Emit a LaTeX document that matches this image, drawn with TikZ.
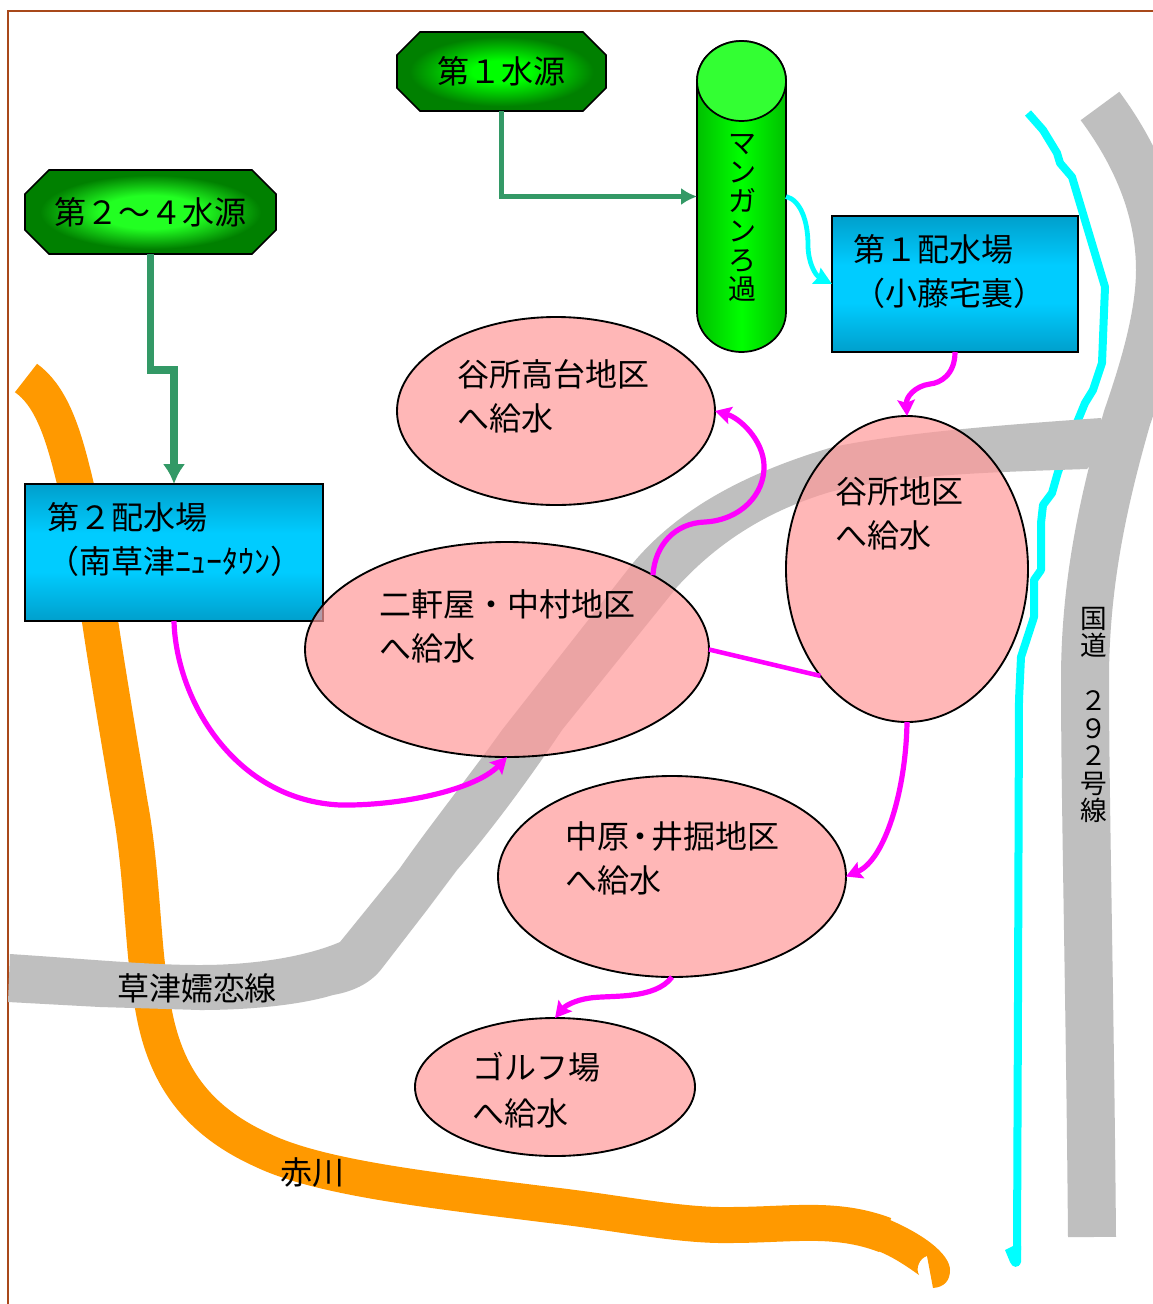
\documentclass[tikz,border=0pt]{standalone}
\usepackage{fontspec}
\setmainfont{Noto Sans CJK JP}
\usetikzlibrary{shapes.geometric,arrows.meta}
\definecolor{bluedark}{HTML}{009FCC}
\definecolor{bluelight}{HTML}{00CCFF}
\definecolor{greendark}{HTML}{008000}
\definecolor{greenlime}{HTML}{00FF00}
\definecolor{greenlime2}{HTML}{22FF22}
\definecolor{greencyl}{HTML}{00C000}
\definecolor{greentop}{HTML}{33FF33}
\definecolor{seagreen}{HTML}{339966}
\definecolor{roadgray}{HTML}{BFBFBF}
\definecolor{rivorange}{HTML}{FF9900}
\definecolor{framebrown}{HTML}{A8481A}
\definecolor{pinkfill}{HTML}{FF9999}
\definecolor{purecyan}{HTML}{00FFFF}
\definecolor{puremag}{HTML}{FF00FF}
\pgfdeclareverticalshading{bluebar}{100bp}{color(0bp)=(bluedark); color(25bp)=(bluedark); color(43bp)=(bluelight); color(57bp)=(bluelight); color(75bp)=(bluedark); color(100bp)=(bluedark)}
\pgfdeclareradialshading{octa}{\pgfpoint{0bp}{0bp}}{color(0bp)=(greenlime); color(7bp)=(greenlime); color(22bp)=(greendark); color(50bp)=(greendark)}
\pgfdeclareradialshading{octb}{\pgfpoint{0bp}{0bp}}{color(0bp)=(greenlime2); color(10bp)=(greenlime2); color(22bp)=(greendark); color(50bp)=(greendark)}
\tikzset{
  wh/.style 2 args={minimum width=#1*0.75pt, minimum height=#2*0.75pt, inner sep=0pt, outer sep=0pt},
  txt/.style={inner sep=0pt, outer sep=0pt, align=left, font=\fontsize{24pt}{33pt}\selectfont},
  vtxt/.style={inner sep=0pt, outer sep=0pt, align=center},
  boxnode/.style={rectangle, draw=black, line width=1.3pt, shade, shading=bluebar},
  octpath/.style={draw=black, line width=1.3pt},
  pool/.style={ellipse, draw=black, line width=1.4pt, fill=pinkfill, fill opacity=0.7},
  mag/.style={draw=puremag, line width=3.9pt, -{Stealth[length=12pt,width=13pt,inset=2pt]}},
  magplain/.style={draw=puremag, line width=3.4pt},
  cyanarrow/.style={draw=purecyan, line width=3.6pt, -{Stealth[length=13pt,width=13pt,inset=1.5pt]}},
  greenpipe/.style={draw=seagreen, line width=#1},
  road/.style={draw=roadgray, line width=36pt},
  river/.style={draw=rivorange, line width=27pt},
  stream/.style={draw=purecyan, line width=6pt, line join=round},
}
\begin{document}
\begin{tikzpicture}[x=0.75pt,y=-0.75pt]
\useasboundingbox (0,0) rectangle (1153,1304);
\clip (0,0) rectangle (1153,1304);
\fill[white] (0,0) rectangle (1153,1304);
\draw[framebrown, line width=1.5pt] (7.5,1320) -- (7.5,10.5) -- (1170,10.5);

% river and stream
\draw[river] (26,378) .. controls (50,395) and (62,430) .. (72,470) .. controls (85,520) and (92,575) .. (100,621) .. controls (108,675) and (120,745) .. (130,805) .. controls (142,870) and (143,950) .. (150,985) .. controls (158,1060) and (185,1115) .. (262,1150) .. controls (320,1178) and (430,1190) .. (550,1205) .. controls (620,1213) and (680,1226) .. (730,1225) .. controls (790,1225) and (835,1216) .. (885,1235);
\fill[rivorange] (870,1212) .. controls (925,1232) and (950,1255) .. (950,1270) .. controls (950,1280) and (945,1287) .. (933,1288) -- (927,1256) .. controls (920,1258) and (915,1268) .. (919,1275) .. controls (905,1265) and (890,1255) .. (875,1250) -- cycle;
\draw[stream] (1028,113) -- (1043,130) -- (1057,153) -- (1060,163) -- (1072,177) -- (1105,287) -- (1102,363) -- (1093,390) -- (1085,403) -- (1078,420) -- (1058,472) -- (1052,493) -- (1043,505) -- (1041,523) -- (1041,570) -- (1034,580) -- (1034,617) -- (1021,657) -- (1019,700) -- (1018,1000) -- (1017,1250);
\fill[purecyan] (1013,1246) -- (1005,1250) -- (1010,1262) .. controls (1012,1268) and (1019,1269) .. (1021,1262) -- (1021,1246) -- cycle;

% roads
\draw[road] (1100,106) .. controls (1140,160) and (1160,215) .. (1160,270) .. controls (1160,320) and (1140,380) .. (1127,418) .. controls (1105,495) and (1085,580) .. (1085,680) .. controls (1085,800) and (1090,1000) .. (1092,1237);
\fill[roadgray] (10,954) .. controls (100,960) and (150,965) .. (200,965) .. controls (260,965) and (310,955) .. (340,942)
  -- (400,868) .. controls (430,825) and (470,775) .. (502,730) -- (633,563) .. controls (665,525) and (720,480) .. (833,447) .. controls (900,433) and (1000,425) .. (1101,418)
  -- (1110,445) -- (1087,469) .. controls (1000,472) and (900,474) .. (830,492) .. controls (770,510) and (720,540) .. (677,587) -- (562,730) .. controls (530,778) and (490,832) .. (457,870) -- (427,910) -- (383,967)
  .. controls (370,985) and (350,992) .. (333,995) .. controls (300,1005) and (250,1010) .. (200,1010) -- (100,1007) -- (8,1002) -- cycle;

% sources
\shade[shading=octa, octpath] (397,55) -- (420,32) -- (583,32) -- (606,55) -- (606,88) -- (583,111) -- (420,111) -- (397,88) -- cycle;
\shade[shading=octb, octpath] (25,194) -- (49,170) -- (252,170) -- (276,194) -- (276,230) -- (252,254) -- (49,254) -- (25,230) -- cycle;
\node[txt, wh={209}{79}] (s1) at (501.5,71.5) {\raisebox{-2pt}{第１水源}};
\node[txt, wh={251}{84}] (s2) at (150.5,212) {第２～４水源};

% filter
\shade[left color=greencyl, right color=greencyl, middle color=greenlime, draw=black, line width=1.3pt]
  (697,81) -- (697,312) arc[x radius=44.5, y radius=40, start angle=180, end angle=0] -- (786,81) arc[x radius=44.5, y radius=40, start angle=0, end angle=-180] -- cycle;
\draw[fill=greentop, draw=black, line width=1.3pt] (741.5,81) ellipse[x radius=44.5, y radius=40];
\node[vtxt, wh={89}{311}] (filt) at (741.5,196.5) {};

% distribution boxes
\node[boxnode, wh={246}{136}] (b1) at (955,284) {};
\node[boxnode, wh={298}{137}] (b2) at (174,552.5) {};

% service areas
\node[pool, wh={318}{188}] (e1) at (556,411) {};
\node[pool, wh={242}{306}] (e2) at (907,569) {};
\node[pool, wh={404}{215}] (e3) at (507,649.5) {};
\node[pool, wh={348}{201}] (e4) at (672,876.5) {};
\node[pool, wh={280}{138}] (e5) at (555,1087) {};

% connectors
\draw[greenpipe=4.3pt, -{Latex[length=12pt,width=13pt]}] (s1.south) |- (filt.west);
\draw[greenpipe=5.8pt, -{Latex[length=15pt,width=17pt]}] (s2.south) -- (150.5,370) -| (b2.north);
\draw[cyanarrow] (filt.east) .. controls (800,200) and (808,220) .. (808,245) .. controls (808,262) and (815,275) .. (b1.west);
\draw[mag] (b1.south) .. controls (955,375) and (940,383) .. (930,384) .. controls (915,386) and (906,397) .. (e2.north);
\draw[mag] (e3.27.5) .. controls (655,545) and (675,523) .. (705,522) .. controls (740,520) and (765,495) .. (764,465) .. controls (763,440) and (740,418) .. (e1.east);
\draw[mag] (b2.south) .. controls (176,700) and (235,800) .. (340,805) .. controls (400,806) and (475,790) .. (e3.south);
\draw[magplain] (e3.east) -- (e2.231.7);
\draw[mag] (e2.south) .. controls (906,790) and (885,860) .. (e4.east);
\draw[mag] (e4.south) .. controls (655,1000) and (610,995) .. (590,998) .. controls (575,1000) and (565,1006) .. (e5.north);

% labels
\node[vtxt, font=\fontsize{21pt}{21.9pt}\selectfont] (filtt) at (742,218) {マ\\ン\\ガ\\ン\\ろ\\過};
\node[txt, anchor=west] (b1t) at (853,272) {第１配水場\\（小藤宅裏）};
\node[txt, anchor=west] (b2t) at (47,540) {第２配水場\\（南草津ﾆｭｰﾀｳﾝ）};
\node[txt, anchor=west] (e1t) at (457,396) {谷所高台地区\\へ給水};
\node[txt, anchor=west] (e2t) at (835,513) {谷所地区\\へ給水};
\node[txt, anchor=west] (e3t) at (379,626) {二軒屋・中村地区\\へ給水};
\node[txt, anchor=west] (e4t) at (565,858) {中原\hspace{-3.75pt}・\hspace{-3.75pt}井掘地区\\へ給水};
\node[txt, anchor=west, font=\fontsize{24pt}{34.5pt}\selectfont] (e5t) at (472,1090) {ゴルフ場\\へ給水};
\node[txt] (roadt) at (197,988) {草津嬬恋線};
\node[txt] (rivt) at (312,1172) {赤川};
\node[vtxt, font=\fontsize{20pt}{20.6pt}\selectfont] (roadt2) at (1094,715) {国\\道\\　\\２\\９\\２\\号\\線};
\end{tikzpicture}
\end{document}
